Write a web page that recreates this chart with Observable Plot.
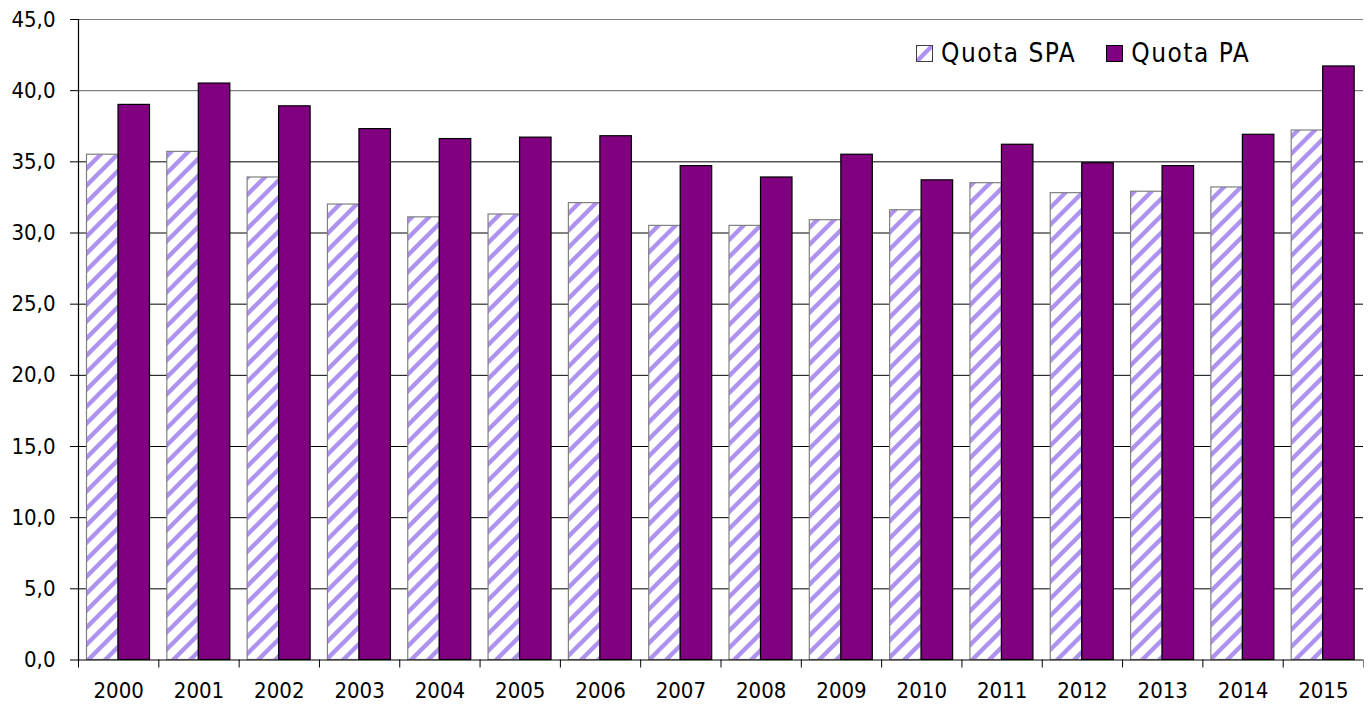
<!DOCTYPE html>
<html>
<head>
<meta charset="utf-8">
<script src="https://cdn.jsdelivr.net/npm/d3@7"></script>
<script src="https://cdn.jsdelivr.net/npm/@observablehq/plot@0.6"></script>
<style>
  html, body { margin: 0; padding: 0; background: #fff; }
  #wrap { position: relative; width: 1369px; height: 707px; font-family: "DejaVu Sans Condensed", "DejaVu Sans", sans-serif; }
  #legend { position: absolute; left: 916px; top: 38px; display: flex; align-items: center; font-size: 26px; color: #000; letter-spacing: 1.5px; }
  #legend .item { display: flex; align-items: center; margin-right: 30px; }
  #legend svg { margin-right: 8px; }
</style>
</head>
<body>
<div id="wrap"></div>
<script>
const years = ["2000","2001","2002","2003","2004","2005","2006","2007","2008","2009","2010","2011","2012","2013","2014","2015"];
const quotaSPA = [35.5, 35.7, 33.9, 32.0, 31.1, 31.3, 32.1, 30.5, 30.5, 30.9, 31.6, 33.5, 32.8, 32.9, 33.2, 37.2];
const quotaPA  = [39.0, 40.5, 38.9, 37.3, 36.6, 36.7, 36.8, 34.7, 33.9, 35.5, 33.7, 36.2, 34.9, 34.7, 36.9, 41.7];
const seriesNames = ["Quota SPA", "Quota PA"];
const yTicks = [0, 5, 10, 15, 20, 25, 30, 35, 40, 45];
const gridDark = [5, 10, 15, 20, 25, 30, 35];
const gridLight = [40, 45];

const spaData = years.map((y, i) => ({year: y, value: quotaSPA[i]}));
const paData = years.map((y, i) => ({year: y, value: quotaPA[i]}));

const W = 1369, H = 707;
const mL = 78, mR = 6, mT = 19, mB = 47.5;
const bw = (W - mL - mR) / years.length;
const plotH = H - mT - mB;
const fmt = d => d.toFixed(1).replace(".", ",");
const purple = "#800080";
const lav = "#AE92F0";

const chart = Plot.plot({
  width: W,
  height: H,
  marginLeft: mL,
  marginRight: mR,
  marginTop: mT,
  marginBottom: mB,
  style: {fontFamily: "'DejaVu Sans Condensed', 'DejaVu Sans', sans-serif", fontSize: "22px", color: "#000", background: "#fff"},
  x: {type: "band", domain: years, padding: 0, round: false, axis: null, label: null},
  y: {domain: [0, 45], axis: null, label: null},
  marks: [
    Plot.ruleY(gridDark, {stroke: "#000", strokeWidth: 1}),
    Plot.ruleY(gridLight, {stroke: "#808080", strokeWidth: 1.2}),
    Plot.barY(spaData, {x: "year", y: "value", fill: "url(#hatchSPA)", stroke: "#808080", strokeWidth: 1.2, insetLeft: 8.5, insetRight: bw - 8.5 - 31.5}),
    Plot.barY(paData, {x: "year", y: "value", fill: purple, stroke: "#000", strokeWidth: 1.2, insetLeft: 8.5 + 31.5, insetRight: bw - 8.5 - 63}),
    Plot.ruleY([0], {stroke: "#000", strokeWidth: 1.2}),
    Plot.axisY({ticks: yTicks, tickSize: 8, tickPadding: 15, tickFormat: fmt, fontSize: 22, stroke: "#000", label: null}),
    Plot.axisX({tickSize: 0, tickPadding: 22, fontSize: 22, label: null}),
    Plot.ruleX(years, {x: d => d, dx: -bw / 2, insetTop: plotH, insetBottom: -8, stroke: "#000"}),
    Plot.ruleX([years[years.length - 1]], {x: d => d, dx: bw / 2, insetTop: plotH, insetBottom: -8, stroke: "#808080"}),
    Plot.frame({anchor: "left", stroke: "#000", strokeWidth: 1.2})
  ]
});

// hatch pattern definition
const ns = "http://www.w3.org/2000/svg";
function addPattern(svg, id) {
  const defs = document.createElementNS(ns, "defs");
  const pat = document.createElementNS(ns, "pattern");
  pat.setAttribute("id", id);
  pat.setAttribute("patternUnits", "userSpaceOnUse");
  pat.setAttribute("width", "17");
  pat.setAttribute("height", "17");
  const bg = document.createElementNS(ns, "rect");
  bg.setAttribute("width", "17"); bg.setAttribute("height", "17"); bg.setAttribute("fill", "#fff");
  pat.appendChild(bg);
  const p = document.createElementNS(ns, "path");
  p.setAttribute("d", "M-4,4 L4,-4 M0,17 L17,0 M13,21 L21,13");
  p.setAttribute("stroke", lav);
  p.setAttribute("stroke-width", "4.4");
  pat.appendChild(p);
  defs.appendChild(pat);
  svg.insertBefore(defs, svg.firstChild);
}
addPattern(chart, "hatchSPA");

const wrap = document.getElementById("wrap");
wrap.appendChild(chart);

// legend
const legend = document.createElement("div");
legend.id = "legend";
const swatchFills = ["url(#hatchSPA)", purple];
const swatchStrokes = ["#404040", "#000"];
seriesNames.forEach((name, i) => {
  const item = document.createElement("div");
  item.className = "item";
  item.innerHTML = `<svg width="17" height="17"><rect x="0.5" y="0.5" width="16" height="16" fill="${swatchFills[i]}" stroke="${swatchStrokes[i]}" stroke-width="1"/></svg><span>${name}</span>`;
  legend.appendChild(item);
});
wrap.appendChild(legend);
</script>
</body>
</html>
